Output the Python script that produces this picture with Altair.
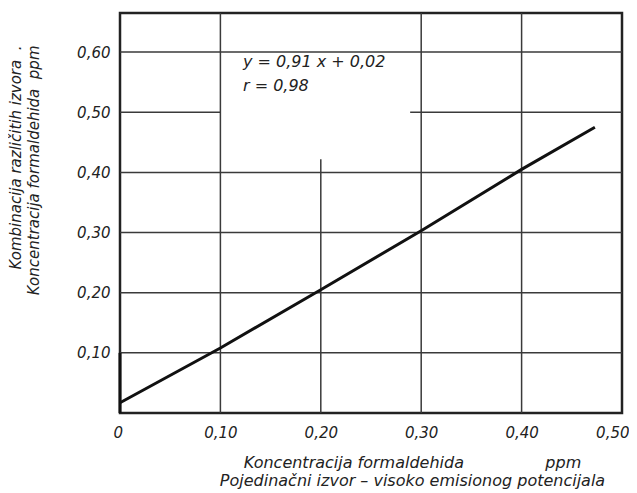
import altair as alt
import pandas as pd

# Regression line as drawn
line_x = [0.0, 0.10, 0.20, 0.30, 0.40, 0.473]
line_y = [0.017, 0.108, 0.205, 0.303, 0.405, 0.475]

# Grid segments (the hand-drawn grid is not complete everywhere)
h_y = [0.10, 0.20, 0.30, 0.40, 0.50, 0.50, 0.60]
h_x1 = [0.0, 0.0, 0.0, 0.0, 0.0, 0.289, 0.0]
h_x2 = [0.5, 0.5, 0.5, 0.5, 0.1, 0.5, 0.5]

v_x = [0.10, 0.20, 0.30, 0.40]
v_y1 = [0.0, 0.0, 0.0, 0.0]
v_y2 = [0.665, 0.422, 0.665, 0.665]

# darker emphasised segment on the y axis
e_x = [0.0]
e_y1 = [0.0]
e_y2 = [0.10]

x_ticks = [0.0, 0.1, 0.2, 0.3, 0.4, 0.5]
y_ticks = [0.1, 0.2, 0.3, 0.4, 0.5, 0.6]

ann_text = ["y = 0,91 x + 0,02", "r = 0,98"]
ann_x = [0.1225, 0.1225]
ann_y = [0.584, 0.544]

FONT = "DejaVu Sans"
NB = "\u00a0"
xs = alt.Scale(domain=[0, 0.5], nice=False, zero=False)
ys = alt.Scale(domain=[0, 0.665], nice=False, zero=False)

x_axis = alt.Axis(
    values=x_ticks, grid=False, ticks=False, domain=False,
    labelExpr="datum.value == 0 ? '0' : replace(format(datum.value, '.2f'), '.', ',')",
    labelFont=FONT, labelFontStyle="italic", labelFontSize=15, labelColor="#222",
    labelPadding=12, labelFlush=True, labelFlushOffset=7, labelOverlap=False,
    title=["Koncentracija formaldehida" + NB * 16 + "ppm",
           "Pojedinačni izvor – visoko emisionog potencijala"],
    titleFont=FONT, titleFontStyle="italic", titleFontWeight="normal", titleFontSize=16,
    titleColor="#222", titleX=292, titleY=41, titleAlign="center", titleBaseline="top",
    titleLineHeight=18,
)
y_axis = alt.Axis(
    values=y_ticks, grid=False, ticks=False, domain=False,
    labelExpr="replace(format(datum.value, '.2f'), '.', ',')",
    labelFont=FONT, labelFontStyle="italic", labelFontSize=15, labelColor="#222",
    labelPadding=10,
    title=["Kombinacija različitih izvora" + NB * 2 + ".", "Koncentracija formaldehida" + NB * 2 + "ppm"],
    titleFont=FONT, titleFontStyle="italic", titleFontWeight="normal", titleFontSize=15,
    titleColor="#222", titleAngle=270, titleAlign="right", titleBaseline="top",
    titleX=-112, titleY=32, titleLineHeight=18,
)

hdf = pd.DataFrame({"y": h_y, "x1": h_x1, "x2": h_x2})
vdf = pd.DataFrame({"x": v_x, "y1": v_y1, "y2": v_y2})
edf = pd.DataFrame({"x": e_x, "y1": e_y1, "y2": e_y2})
ldf = pd.DataFrame({"x": line_x, "y": line_y})
adf = pd.DataFrame({"t": ann_text, "x": ann_x, "y": ann_y})

hgrid = alt.Chart(hdf).mark_rule(color="#3a3a3a", strokeWidth=1.5).encode(
    x=alt.X("x1:Q", scale=xs, axis=x_axis), x2="x2:Q",
    y=alt.Y("y:Q", scale=ys, axis=y_axis))
vgrid = alt.Chart(vdf).mark_rule(color="#3a3a3a", strokeWidth=1.5).encode(
    x=alt.X("x:Q", scale=xs), y=alt.Y("y1:Q", scale=ys), y2="y2:Q")
emph = alt.Chart(edf).mark_rule(color="#111", strokeWidth=3).encode(
    x=alt.X("x:Q", scale=xs), y=alt.Y("y1:Q", scale=ys), y2="y2:Q")
line = alt.Chart(ldf).mark_line(color="#111", strokeWidth=3).encode(
    x=alt.X("x:Q", scale=xs), y=alt.Y("y:Q", scale=ys))
ann = alt.Chart(adf).mark_text(
    font=FONT, fontStyle="italic", fontSize=16, color="#222",
    align="left", baseline="middle").encode(
    x=alt.X("x:Q", scale=xs), y=alt.Y("y:Q", scale=ys), text="t:N")

chart = alt.layer(hgrid, vgrid, emph, line, ann).properties(
    width=502, height=400,
    autosize=alt.AutoSizeParams(type="none"),
    padding={"left": 112, "top": 5, "right": 7, "bottom": 80},
    background="white",
).configure_view(stroke="#222", strokeWidth=2.5)

chart.save("out.html", embed_options={"renderer": "svg", "actions": False})
